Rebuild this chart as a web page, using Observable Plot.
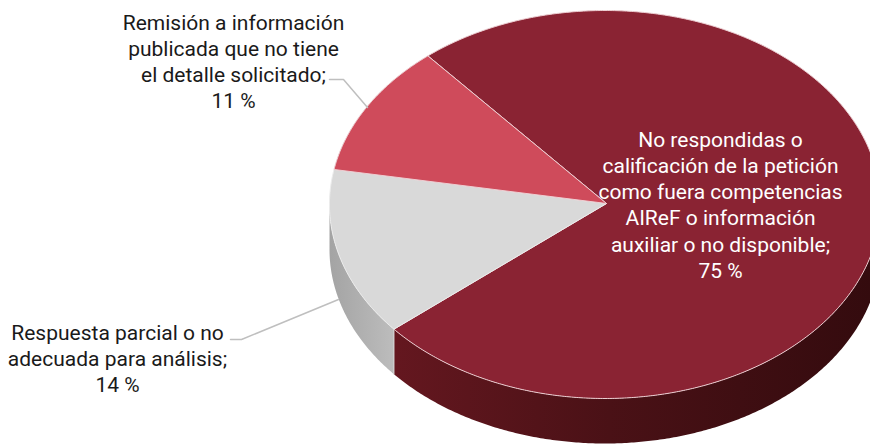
<!DOCTYPE html>
<html>
<head>
<meta charset="utf-8">
<style>html,body{margin:0;padding:0;background:#fff;overflow:hidden}svg{display:block}</style>
<script src="https://cdn.jsdelivr.net/npm/d3@7"></script>
<script src="https://cdn.jsdelivr.net/npm/@observablehq/plot@0.6"></script>
</head>
<body>
<div id="chart"></div>
<script>
// Data, in drawing order (clockwise from the start angle)
const categories = [
  "No respondidas o\ncalificación de la petición\ncomo fuera competencias\nAIReF o información\nauxiliar o no disponible;",
  "Respuesta parcial o no\nadecuada para análisis;",
  "Remisión a información\npublicada que no tiene\nel detalle solicitado;"
];
const shares = [75, 14, 11];

// Layout and styles
const W = 870, H = 444;
const cx = 604.5, cy = 204, rx = 275.5, ry = 194, depth = 45;
const apexX = 606, apexY = 203;
const startAngle = -40;
const topColors = ["#8a2333", "#d9d9d9", "#cf4b5b"];
const rimColors = ["#eccdd1", "#ececec", "#eccdd1"];
const wallColors = ["url(#wallRed)", "url(#wallGrey)", "none"];
const labelColors = ["#ffffff", "#1a1a1a", "#1a1a1a"];
const labelAt = [[720, 139], [117, 332], [233, 22]];
const leaders = [
  [[230, 339], [241, 339], [338, 299]],
  [[329, 79], [343, 79], [367, 107]]
];

const rad = d => d * Math.PI / 180;
const pt = (deg, dz = 0) => [cx + rx * Math.sin(rad(deg)), cy - ry * Math.cos(rad(deg)) + dz];
const arc = (a, b, dz = 0) => d3.range(a, b, 0.5).concat(b).map(d => pt(d, dz));

// Slice angle ranges derived from the shares
const total = d3.sum(shares);
let acc = startAngle;
const slices = shares.map((v, i) => {
  const a0 = acc; acc += v / total * 360;
  return {i, a0, a1: acc};
});

const facePoly = s => [[apexX, apexY], ...arc(s.a0, s.a1), [apexX, apexY]];
// Visible wall: front half of the pie, between 90 and 270 degrees
function wallPoly(s) {
  for (const k of [0, 360]) {
    const a = Math.max(s.a0 + k, 90), b = Math.min(s.a1 + k, 270);
    if (b > a) {
      const top = arc(a, b);
      return [...top, ...arc(a, b, depth).reverse(), top[0]];
    }
  }
  return null;
}

const gradient = (id, x1, x2, stops) => () => {
  const d = d3.create("svg:defs");
  const g = d.append("linearGradient").attr("id", id).attr("gradientUnits", "userSpaceOnUse")
    .attr("x1", x1).attr("x2", x2).attr("y1", 0).attr("y2", 0);
  stops.forEach(([o, c]) => g.append("stop").attr("offset", o).attr("stop-color", c));
  return d.node();
};

const polyOpts = (fill, stroke, sw) => ({x: d => d[0], y: d => d[1], fill, stroke, strokeWidth: sw, curve: "linear", strokeLinejoin: "round"});

const marks = [
  gradient("wallRed", 395, 870, [[0, "#64171f"], [0.45, "#4a1116"], [1, "#340b0e"]]),
  gradient("wallGrey", 330, 395, [[0, "#a4a4a4"], [1, "#bdbdbd"]])
];
slices.forEach(s => {
  const w = wallPoly(s);
  if (w && wallColors[s.i] !== "none") marks.push(Plot.line(w, polyOpts(wallColors[s.i], "none", 0)));
});
// Light seam on the wall between the first two slices
const seam = slices[0].a1;
marks.push(Plot.line([pt(seam), pt(seam, depth)], {x: d => d[0], y: d => d[1], stroke: "#d8d8d8", strokeWidth: 1}));
slices.forEach(s => marks.push(Plot.line(facePoly(s), polyOpts(topColors[s.i], rimColors[s.i], 1))));
leaders.forEach(l => marks.push(Plot.line(l, {x: d => d[0], y: d => d[1], stroke: "#bfbfbf", strokeWidth: 1.5, curve: "linear"})));
const labels = categories.map((c, i) => ({text: `${c}\n${shares[i]} %`, x: labelAt[i][0], y: labelAt[i][1], color: labelColors[i]}));
marks.push(Plot.text(labels, {
  x: "x", y: "y", text: "text", fill: "color",
  textAnchor: "middle", lineAnchor: "top", lineHeight: 1.245,
  dy: -11, fontSize: 21, fontFamily: "Roboto, sans-serif"
}));

document.getElementById("chart").append(Plot.plot({
  width: W, height: H,
  margin: 0,
  style: {background: "#fff"},
  x: {domain: [0, W], range: [0, W], axis: null},
  y: {domain: [0, H], range: [0, H], axis: null},
  color: {type: "identity"},
  marks
}));
</script>
</body>
</html>
